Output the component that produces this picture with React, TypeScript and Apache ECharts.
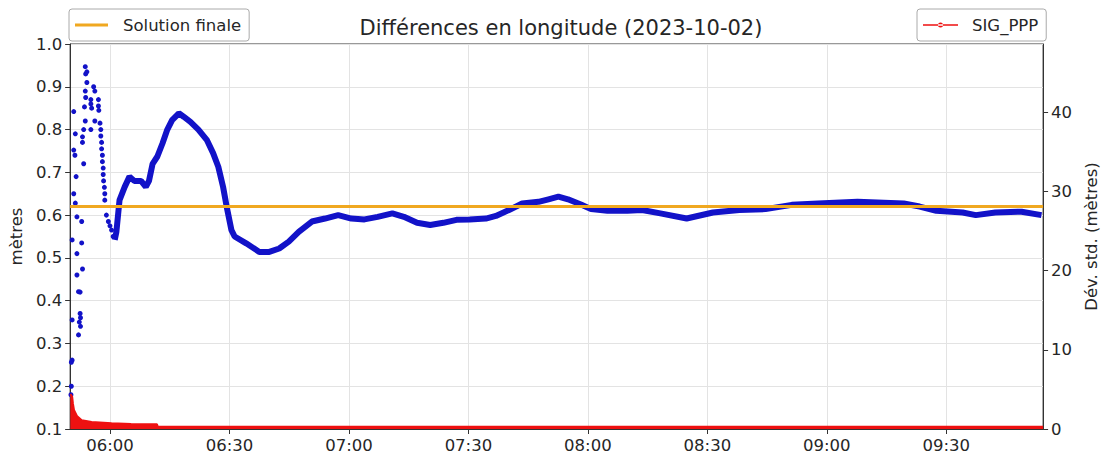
import React, { useEffect, useRef } from "react";
import * as echarts from "echarts";

// Time in minutes since midnight
const xTickMinutes = [360, 390, 420, 450, 480, 510, 540, 570];
const xRange = [350, 594.3];

// Early, sparse blue position estimates (metres)
const blueEarlyT = [
  350.2, 350.3, 350.3, 350.5, 350.5, 350.5, 350.9, 350.9, 350.9, 351.2, 351.3, 351.3, 351.5,
  351.7, 351.7, 351.7, 352.1, 352.1, 352.3, 352.5, 352.5, 352.6, 352.6, 352.9, 352.9, 353.1,
  353.1, 353.1, 353.4, 353.4, 353.6, 353.8, 353.8, 353.8, 353.9, 353.9, 354.2, 354.2, 355.2,
  355.2, 355.2, 355.4, 355.9, 356.2, 356.2, 357.1, 357.1, 357.2, 357.5, 357.7, 357.7, 357.9,
  357.9, 358.1, 358.1, 358.3, 358.3, 358.4, 358.6, 358.7, 358.7, 359.1, 359.6, 360.0, 360.4,
  360.8,
];
const blueEarlyV = [
  0.18, 0.256, 0.2, 0.261, 0.355, 0.542, 0.842, 0.752, 0.65, 0.74, 0.79, 0.628, 0.69,
  0.596, 0.51, 0.46, 0.421, 0.32, 0.35, 0.42, 0.37, 0.36, 0.34, 0.585, 0.535, 0.474,
  0.783, 0.77, 0.72, 0.8, 0.853, 0.82, 0.947, 0.89, 0.93, 0.875, 0.935, 0.91, 0.87,
  0.86, 0.8, 0.85, 0.9, 0.89, 0.82, 0.87, 0.855, 0.845, 0.815, 0.8, 0.785, 0.77,
  0.755, 0.74, 0.725, 0.71, 0.695, 0.68, 0.665, 0.65, 0.635, 0.6, 0.585, 0.575, 0.565,
  0.55,
];

// Continuous blue track
const blueT = [
  361.2, 361.6, 362.4, 363.7, 364.9, 366.1, 367.8, 369.0, 369.8, 370.7, 371.9, 373.2, 374.4,
  375.6, 377.3, 378.5, 380.2, 382.2, 384.3, 385.9, 387.2, 388.4, 389.3, 390.5, 391.3, 394.2,
  397.5, 400.0, 402.5, 404.9, 407.4, 410.7, 414.0, 417.3, 420.6, 423.9, 427.2, 430.9, 433.8,
  437.1, 440.4, 443.7, 447.0, 450.3, 454.4, 456.9, 460.2, 463.5, 467.6, 470.1, 472.6, 475.0,
  478.4, 480.8, 484.9, 489.9, 493.6, 498.2, 504.8, 511.4, 518.0, 524.6, 531.2, 537.8, 547.7,
  554.3, 559.3, 563.3, 567.5, 574.1, 577.4, 582.3, 588.9, 593.9,
];
const blueV = [
  0.542, 0.56, 0.635, 0.666, 0.69, 0.68, 0.68, 0.666, 0.68, 0.72, 0.737, 0.768, 0.8,
  0.822, 0.838, 0.83, 0.818, 0.8, 0.776, 0.745, 0.713, 0.666, 0.62, 0.565, 0.55, 0.534,
  0.514, 0.514, 0.522, 0.538, 0.561, 0.585, 0.592, 0.6, 0.592, 0.59, 0.596, 0.604, 0.596,
  0.582, 0.577, 0.582, 0.589, 0.59, 0.592, 0.598, 0.612, 0.627, 0.631, 0.637, 0.643, 0.637,
  0.624, 0.614, 0.61, 0.61, 0.612, 0.604, 0.592, 0.606, 0.612, 0.614, 0.624, 0.627, 0.631,
  0.629, 0.627, 0.62, 0.61, 0.606, 0.6, 0.606, 0.608, 0.6,
];

// Final solution (metres)
const finalT = [350, 594.3];
const finalV = [0.62, 0.62];

// SIG_PPP standard deviation (metres, right axis)
const redT = [350.05, 350.5, 350.7, 350.96, 351.7, 352.9, 355.4, 360.4, 365.3, 371.8, 372.0, 400, 450, 500, 550, 594.3];
const redV = [4.4, 4.1, 3.2, 2.4, 1.64, 1.1, 0.88, 0.72, 0.64, 0.59, 0.3, 0.28, 0.27, 0.27, 0.27, 0.27];

const FONT = "DejaVu Sans";
const TXT = "#262626";

const zip = (a: number[], b: number[]) => a.map((v, i) => [v, b[i]]);
const fmtTime = (v: number) => {
  const h = Math.floor(v / 60);
  const m = Math.round(v - h * 60);
  return String(h).padStart(2, "0") + ":" + String(m).padStart(2, "0");
};

export default function App() {
  const ref = useRef<HTMLDivElement>(null);
  useEffect(() => {
    if (!ref.current) return;
    const chart = echarts.init(ref.current, undefined, { renderer: "svg" });
    const axisLine = { show: true, lineStyle: { color: "#333", width: 1 } };
    const axisTick = { show: true, length: 5, lineStyle: { color: "#333" } };
    chart.setOption({
      animation: false,
      backgroundColor: "#fff",
      textStyle: { fontFamily: FONT },
      grid: {
        left: 68, right: 53, top: 44, bottom: 31,
        show: true, borderColor: "#333", borderWidth: 1, backgroundColor: "transparent",
      },
      graphic: [
        {
          type: "text", x: 561, y: 28,
          style: {
            text: "Différences en longitude (2023-10-02)",
            font: `21px "${FONT}"`, fill: TXT, align: "center", verticalAlign: "middle",
          },
        },
      ],
      legend: [
        {
          data: [{ name: "Solution finale", icon: "path://M0,0H33V3H0Z" }],
          left: 69, top: 9, itemWidth: 33, itemHeight: 3, selectedMode: false,
          padding: [6, 8, 6, 6], borderColor: "#aaa", borderWidth: 1, borderRadius: 3,
          textStyle: { fontFamily: FONT, fontSize: 16.5, color: TXT, lineHeight: 20, padding: [0, 0, 0, 10] },
        },
        {
          data: [{ name: "SIG_PPP", icon: "path://M0,1.75H35V3.25H0Z M15,2.5a2.5,2.5 0 1,0 5,0a2.5,2.5 0 1,0 -5,0Z" }],
          left: 917, top: 9, itemWidth: 35, itemHeight: 5, selectedMode: false,
          padding: [6, 8, 6, 6], borderColor: "#aaa", borderWidth: 1, borderRadius: 3,
          textStyle: { fontFamily: FONT, fontSize: 16.5, color: TXT, lineHeight: 20, padding: [0, 0, 0, 9] },
        },
      ],
      xAxis: {
        type: "value", min: xRange[0], max: xRange[1],
        axisLine,
        axisTick: { ...axisTick, customValues: xTickMinutes },
        axisLabel: {
          customValues: xTickMinutes, formatter: (v: number) => fmtTime(v),
          fontFamily: FONT, fontSize: 16.5, color: TXT, margin: 8,
        },
        splitLine: { show: true, lineStyle: { color: "#e3e3e3", width: 1 } },
      },
      yAxis: [
        {
          type: "value", position: "left", min: 0.1, max: 1.0, interval: 0.1,
          name: "mètres", nameLocation: "middle", nameGap: 42, nameRotate: 90,
          nameTextStyle: { fontFamily: FONT, fontSize: 16.5, color: TXT },
          axisLine, axisTick,
          axisLabel: { formatter: (v: number) => v.toFixed(1), fontFamily: FONT, fontSize: 16.5, color: TXT, margin: 8 },
          splitLine: { show: true, lineStyle: { color: "#e3e3e3", width: 1 } },
        },
        {
          type: "value", position: "right", min: 0, max: 48.6, interval: 10,
          name: "Dév. std. (mètres)", nameLocation: "middle", nameGap: 34, nameRotate: 90,
          nameTextStyle: { fontFamily: FONT, fontSize: 16.5, color: TXT },
          axisLine, axisTick,
          axisLabel: { showMaxLabel: false, fontFamily: FONT, fontSize: 16.5, color: TXT, margin: 8 },
          splitLine: { show: false },
        },
      ],
      series: [
        {
          name: "blue-early", type: "scatter", yAxisIndex: 0, symbol: "circle", symbolSize: 5,
          itemStyle: { color: "#1212c8", opacity: 1 }, data: zip(blueEarlyT, blueEarlyV), z: 2,
        },
        {
          name: "blue-track", type: "line", yAxisIndex: 0, symbol: "none",
          lineStyle: { color: "#1212c8", width: 6 }, data: zip(blueT, blueV), z: 2,
        },
        {
          name: "Solution finale", type: "line", yAxisIndex: 0, symbol: "none",
          color: "#f0a820", lineStyle: { color: "#f0a820", width: 3 }, data: zip(finalT, finalV), z: 3,
        },
        {
          name: "SIG_PPP", type: "line", yAxisIndex: 1, symbol: "none",
          color: "#ee1111", lineStyle: { color: "#ee1111", width: 2 },
          areaStyle: { color: "#ee1111", opacity: 1 }, data: zip(redT, redV), z: 4,
        },
      ],
    });
    return () => chart.dispose();
  }, []);
  return <div ref={ref} style={{ position: "fixed", left: 0, top: 0, width: 1108, height: 460, background: "#fff" }} />;
}
